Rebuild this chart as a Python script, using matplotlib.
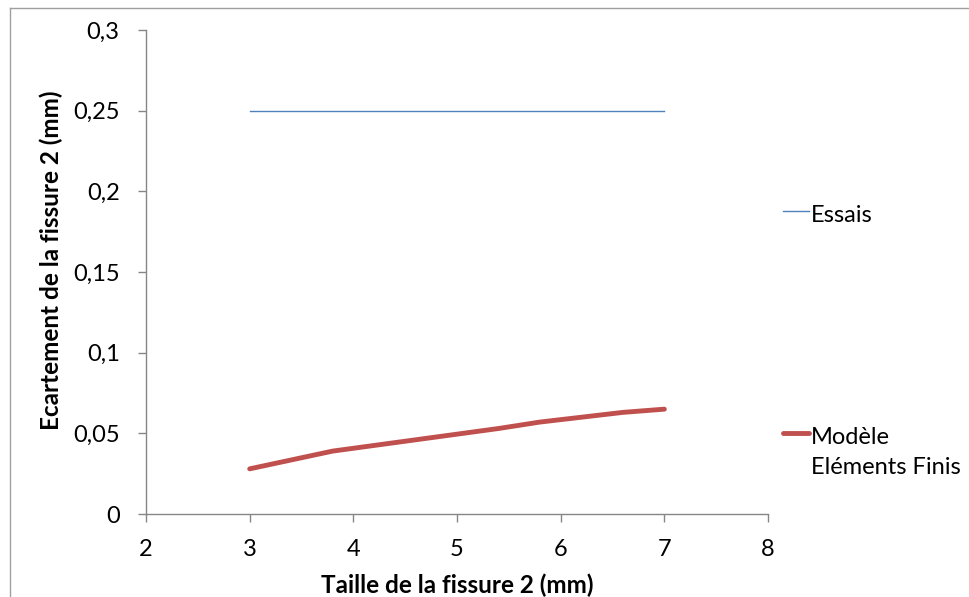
import matplotlib
matplotlib.use("Agg")
import matplotlib.pyplot as plt
from matplotlib.lines import Line2D
from matplotlib.ticker import FuncFormatter

plt.rcParams['font.family'] = ['Lato', 'DejaVu Sans']

# donnees
essais_x = [3, 7]
essais_y = [0.25, 0.25]
mef_x = [3, 3.8, 4.6, 5.4, 5.8, 6.6, 7]
mef_y = [0.028, 0.039, 0.046, 0.053, 0.057, 0.063, 0.065]
labels = ["Essais", "Modèle\nEléments Finis"]

fig = plt.figure(figsize=(9.69, 5.97), dpi=100)
ax = fig.add_axes([0.1507, 0.139, 0.6419, 0.8107])

ax.plot(essais_x, essais_y, color='#4f81bd', lw=1.0)
ax.plot(mef_x, mef_y, color='#c0504d', lw=3.5, solid_capstyle='round')

ax.set_xlim(2, 8)
ax.set_ylim(0, 0.3)
ax.set_xticks(range(2, 9))
ax.set_yticks([0, 0.05, 0.1, 0.15, 0.2, 0.25, 0.3])
ax.yaxis.set_major_formatter(FuncFormatter(lambda v, p: ('%g' % v).replace('.', ',')))

gris = '#868686'
for s in ['top', 'right']:
    ax.spines[s].set_visible(False)
for s in ['left', 'bottom']:
    ax.spines[s].set_color(gris)
    ax.spines[s].set_linewidth(1.0)
ax.tick_params(axis='both', colors=gris, labelcolor='black', labelsize=17,
               length=6, width=1.0, direction='out')
ax.tick_params(axis='x', pad=12)
ax.tick_params(axis='y', pad=13)

ax.set_xlabel("Taille de la fissure 2 (mm)", fontsize=17.5, fontweight='bold')
ax.set_ylabel("Ecartement de la fissure 2 (mm)", fontsize=17.5, fontweight='bold')
ax.xaxis.set_label_coords(0.5, -0.122)
ax.yaxis.set_label_coords(-0.133, 0.525)

# legende a la main
W, H = 969, 597
fig.add_artist(Line2D([783 / W, 809 / W], [1 - 211 / H, 1 - 211 / H], color='#4f81bd', lw=1.0))
fig.text(811 / W, 1 - 215 / H, labels[0], fontsize=17, va='center', ha='left')
fig.add_artist(Line2D([783 / W, 809 / W], [1 - 433 / H, 1 - 433 / H], color='#c0504d', lw=3.5,
                      solid_capstyle='round'))
fig.text(811 / W, 1 - 437 / H, labels[1].split("\n")[0], fontsize=17, va='center', ha='left')
fig.text(811 / W, 1 - 468 / H, labels[1].split("\n")[1], fontsize=17, va='center', ha='left')

# cadre du graphique
fig.add_artist(Line2D([10 / W, 10 / W], [0, 1 - 8 / H], color='#a0a0a0', lw=1.0))
fig.add_artist(Line2D([10 / W, 1], [1 - 8 / H, 1 - 8 / H], color='#a0a0a0', lw=1.0))

fig.savefig("out.png", dpi=100)
